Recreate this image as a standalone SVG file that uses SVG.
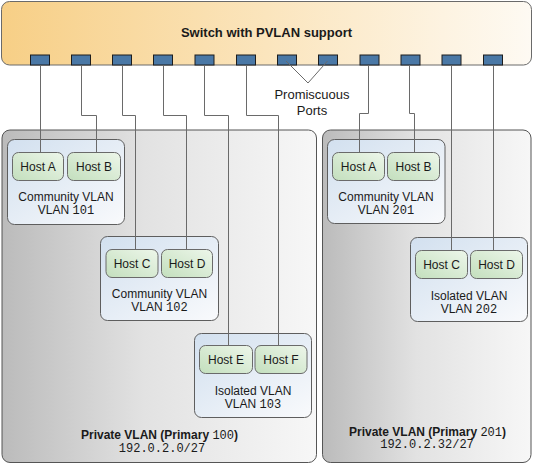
<svg xmlns="http://www.w3.org/2000/svg" width="533" height="465" viewBox="0 0 533 465">
  <defs>
    <linearGradient id="gSwitch" x1="0" y1="0" x2="1" y2="0">
      <stop offset="0" stop-color="#f7cf86"/>
      <stop offset="0.5" stop-color="#fbe5bd"/>
      <stop offset="1" stop-color="#fefaf3"/>
    </linearGradient>
    <linearGradient id="gPvlan" x1="0" y1="0" x2="1" y2="0">
      <stop offset="0" stop-color="#bbbbbb"/>
      <stop offset="0.45" stop-color="#e2e2e2"/>
      <stop offset="1" stop-color="#f7f7f7"/>
    </linearGradient>
    <linearGradient id="gVlan" x1="0" y1="0" x2="1" y2="1">
      <stop offset="0" stop-color="#d2e0ef"/>
      <stop offset="1" stop-color="#f9fafc"/>
    </linearGradient>
    <linearGradient id="gHost" x1="0" y1="1" x2="1" y2="0">
      <stop offset="0" stop-color="#c3dfbd"/>
      <stop offset="1" stop-color="#edf6ea"/>
    </linearGradient>
  </defs>
  <style>
    text { font-family: "Liberation Sans", Arial, sans-serif; fill: #1a1a1a; }
    .title { font-size: 13px; font-weight: bold; }
    .lbl { font-size: 12px; text-anchor: middle; }
    .prom { font-size: 13px; text-anchor: middle; }
    .pv { font-size: 12px; font-weight: bold; text-anchor: middle; }
    .mono { font-family: "Liberation Mono", "Courier New", monospace; font-weight: normal; font-size: 12px; }
    .switch { fill: url(#gSwitch); stroke: #6a6a6a; stroke-width: 1; }
    .port { fill: #4a78a6; stroke: #1c1c1c; stroke-width: 1; }
    .pvlan { fill: url(#gPvlan); stroke: #555; stroke-width: 1; }
    .vlan { fill: url(#gVlan); stroke: #5e5e5e; stroke-width: 1; }
    .host { fill: url(#gHost); stroke: #6a6a6a; stroke-width: 1; }
    .wire { fill: none; stroke: #6a6a6a; stroke-width: 1; }
  </style>

  <g id="switch">
    <rect class="switch" x="1.5" y="1.5" width="530" height="63.5" rx="8"/>
    <text class="title" x="266.5" y="36.5" text-anchor="middle">Switch with PVLAN support</text>
    <g id="ports">
      <rect class="port" x="30.5" y="55" width="19" height="10"/>
      <rect class="port" x="71.5" y="55" width="19" height="10"/>
      <rect class="port" x="112.5" y="55" width="19" height="10"/>
      <rect class="port" x="153.5" y="55" width="19" height="10"/>
      <rect class="port" x="195" y="55" width="19" height="10"/>
      <rect class="port" x="236.5" y="55" width="19" height="10"/>
      <rect class="port" x="277.5" y="55" width="19" height="10"/>
      <rect class="port" x="318.5" y="55" width="19" height="10"/>
      <rect class="port" x="360" y="55" width="19" height="10"/>
      <rect class="port" x="401" y="55" width="19" height="10"/>
      <rect class="port" x="442" y="55" width="19" height="10"/>
      <rect class="port" x="483.5" y="55" width="19" height="10"/>
    </g>
  </g>

  <g id="promiscuous-label">
    <text class="prom" x="312" y="99">Promiscuous</text>
    <text class="prom" x="312" y="115">Ports</text>
  </g>

  <g id="pvlan-100">
    <rect class="pvlan" x="2" y="130" width="314.5" height="332.5" rx="8"/>
    <text class="pv" x="159.5" y="439">Private VLAN (Primary <tspan class="mono">100</tspan>)</text>
    <text class="pv mono" x="162" y="451.5" text-anchor="middle">192.0.2.0/27</text>
  </g>

  <g id="pvlan-201">
    <rect class="pvlan" x="322.5" y="130" width="208.5" height="332.5" rx="8"/>
    <text class="pv" x="427.5" y="435.5">Private VLAN (Primary <tspan class="mono">201</tspan>)</text>
    <text class="pv mono" x="427" y="448" text-anchor="middle">192.0.2.32/27</text>
  </g>

  <g id="vlan-101">
    <rect class="vlan" x="7.5" y="139.5" width="117" height="85" rx="7"/>
    <text class="lbl" x="66" y="201">Community VLAN</text>
    <text class="lbl" x="66" y="213.5">VLAN <tspan class="mono">101</tspan></text>
  </g>
  <g id="host-a1">
    <rect class="host" x="12.5" y="152.5" width="51" height="28" rx="6"/>
    <text class="lbl" x="38" y="171">Host A</text>
  </g>
  <g id="host-b1">
    <rect class="host" x="67.5" y="152.5" width="53" height="28" rx="6"/>
    <text class="lbl" x="94" y="171">Host B</text>
  </g>

  <g id="vlan-102">
    <rect class="vlan" x="100.5" y="236.5" width="118" height="84" rx="7"/>
    <text class="lbl" x="159.5" y="297.5">Community VLAN</text>
    <text class="lbl" x="159.5" y="310.5">VLAN <tspan class="mono">102</tspan></text>
  </g>
  <g id="host-c1">
    <rect class="host" x="106" y="249.5" width="52" height="28" rx="6"/>
    <text class="lbl" x="132" y="268">Host C</text>
  </g>
  <g id="host-d1">
    <rect class="host" x="161.5" y="249.5" width="51" height="28" rx="6"/>
    <text class="lbl" x="187" y="268">Host D</text>
  </g>

  <g id="vlan-103">
    <rect class="vlan" x="194.5" y="333.5" width="117" height="84" rx="7"/>
    <text class="lbl" x="253" y="394.5">Isolated VLAN</text>
    <text class="lbl" x="253" y="407.5">VLAN <tspan class="mono">103</tspan></text>
  </g>
  <g id="host-e1">
    <rect class="host" x="199.5" y="345.5" width="53" height="28" rx="6"/>
    <text class="lbl" x="226" y="364">Host E</text>
  </g>
  <g id="host-f1">
    <rect class="host" x="255" y="345.5" width="52" height="28" rx="6"/>
    <text class="lbl" x="281" y="364">Host F</text>
  </g>

  <g id="vlan-201">
    <rect class="vlan" x="327.5" y="139.5" width="117.5" height="84" rx="7"/>
    <text class="lbl" x="386" y="201">Community VLAN</text>
    <text class="lbl" x="386" y="213.5">VLAN <tspan class="mono">201</tspan></text>
  </g>
  <g id="host-a2">
    <rect class="host" x="332.5" y="152.5" width="52" height="28" rx="6"/>
    <text class="lbl" x="358.5" y="171">Host A</text>
  </g>
  <g id="host-b2">
    <rect class="host" x="387.5" y="152.5" width="52" height="28" rx="6"/>
    <text class="lbl" x="413.5" y="171">Host B</text>
  </g>

  <g id="vlan-202">
    <rect class="vlan" x="410.5" y="237.5" width="117" height="84" rx="7"/>
    <text class="lbl" x="469" y="299.5">Isolated VLAN</text>
    <text class="lbl" x="469" y="312.5">VLAN <tspan class="mono">202</tspan></text>
  </g>
  <g id="host-c2">
    <rect class="host" x="415.5" y="250.5" width="52" height="28" rx="6"/>
    <text class="lbl" x="441.5" y="269">Host C</text>
  </g>
  <g id="host-d2">
    <rect class="host" x="470.5" y="250.5" width="52" height="28" rx="6"/>
    <text class="lbl" x="496.5" y="269">Host D</text>
  </g>

  <g id="connectors">
    <path class="wire" d="M40.5 65 V152.5"/>
    <path class="wire" d="M81.5 65 V115.5 H96.5 V152.5"/>
    <path class="wire" d="M122.5 65 V115.5 H135.5 V249.5"/>
    <path class="wire" d="M163.5 65 V115.5 H186.5 V249.5"/>
    <path class="wire" d="M204.5 65 V115.5 H228.5 V345.5"/>
    <path class="wire" d="M246.5 65 V115.5 H278.5 V345.5"/>
    <path class="wire" d="M286 61 L308 83 L327.5 61" stroke="#1c1c1c"/>
    <path class="wire" d="M368.5 65 V113.5 H359.5 V152.5"/>
    <path class="wire" d="M409.5 65 V113.5 H414.5 V152.5"/>
    <path class="wire" d="M451.5 65 V250.5"/>
    <path class="wire" d="M493.5 65 V250.5"/>
  </g>
</svg>
